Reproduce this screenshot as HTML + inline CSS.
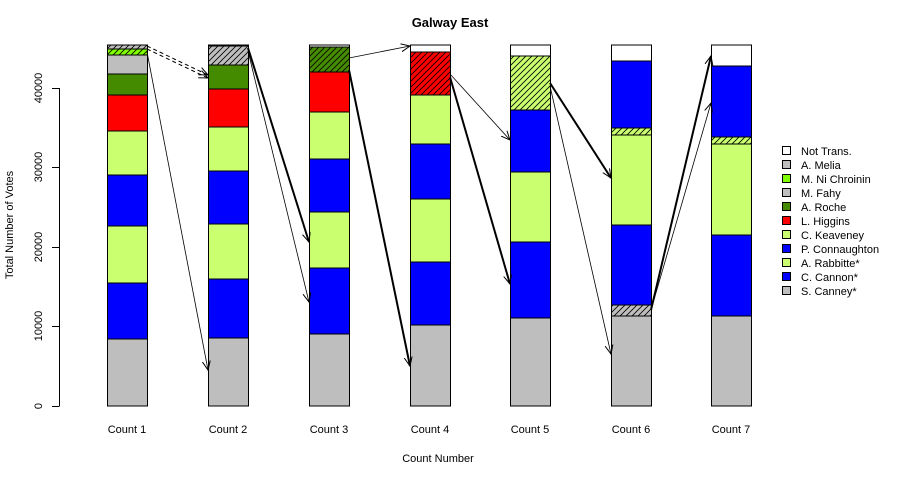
<!DOCTYPE html>
<html><head><meta charset="utf-8"><style>
html,body{margin:0;padding:0;background:#fff;}
svg{display:block;font-family:"Liberation Sans",Arial,sans-serif;}
</style></head><body>
<svg width="900" height="480" viewBox="0 0 900 480" xmlns="http://www.w3.org/2000/svg">
<defs>
<pattern id="hg" patternUnits="userSpaceOnUse" width="6" height="6"><rect width="6" height="6" fill="#bebebe"/><path d="M-1,7 L7,-1 M-1,1 L1,-1 M5,7 L7,5" stroke="#000" stroke-width="0.8"/></pattern>
<pattern id="hb" patternUnits="userSpaceOnUse" width="6" height="6"><rect width="6" height="6" fill="#7fff00"/><path d="M-1,7 L7,-1 M-1,1 L1,-1 M5,7 L7,5" stroke="#000" stroke-width="0.8"/></pattern>
<pattern id="hd" patternUnits="userSpaceOnUse" width="6" height="6"><rect width="6" height="6" fill="#458b00"/><path d="M-1,7 L7,-1 M-1,1 L1,-1 M5,7 L7,5" stroke="#000" stroke-width="0.8"/></pattern>
<pattern id="hr" patternUnits="userSpaceOnUse" width="6" height="6"><rect width="6" height="6" fill="#ff0000"/><path d="M-1,7 L7,-1 M-1,1 L1,-1 M5,7 L7,5" stroke="#000" stroke-width="0.8"/></pattern>
<pattern id="hl" patternUnits="userSpaceOnUse" width="6" height="6"><rect width="6" height="6" fill="#caff70"/><path d="M-1,7 L7,-1 M-1,1 L1,-1 M5,7 L7,5" stroke="#000" stroke-width="0.8"/></pattern>
<marker id="ah" markerWidth="10" markerHeight="10" refX="9" refY="5" orient="auto" markerUnits="userSpaceOnUse"><path d="M0,1 L9,5 L0,9" fill="none" stroke="#000" stroke-width="1"/></marker>
</defs>
<text x="450" y="27" text-anchor="middle" font-size="13" font-weight="bold">Galway East</text>
<g stroke="#000" stroke-width="1">
<line x1="59.5" y1="88" x2="59.5" y2="406"/>
<line x1="52" y1="88.5" x2="59.5" y2="88.5"/>
<line x1="52" y1="167.5" x2="59.5" y2="167.5"/>
<line x1="52" y1="247.5" x2="59.5" y2="247.5"/>
<line x1="52" y1="326.5" x2="59.5" y2="326.5"/>
<line x1="52" y1="406.5" x2="59.5" y2="406.5"/>
</g>
<g font-size="11" text-anchor="middle">
<text transform="translate(42,406) rotate(-90)">0</text>
<text transform="translate(42,326) rotate(-90)">10000</text>
<text transform="translate(42,247) rotate(-90)">20000</text>
<text transform="translate(42,167) rotate(-90)">30000</text>
<text transform="translate(42,88) rotate(-90)">40000</text>
<text transform="translate(13,225) rotate(-90)">Total Number of Votes</text>
<text x="127" y="433">Count 1</text>
<text x="228" y="433">Count 2</text>
<text x="329" y="433">Count 3</text>
<text x="430" y="433">Count 4</text>
<text x="530" y="433">Count 5</text>
<text x="631" y="433">Count 6</text>
<text x="731" y="433">Count 7</text>
<text x="438" y="462">Count Number</text>
</g>
<g stroke="#000" stroke-width="1">
<rect x="107.5" y="339" width="40" height="67" fill="#bebebe"/>
<rect x="107.5" y="283" width="40" height="56" fill="#0000ff"/>
<rect x="107.5" y="226" width="40" height="57" fill="#caff70"/>
<rect x="107.5" y="175" width="40" height="51" fill="#0000ff"/>
<rect x="107.5" y="131" width="40" height="44" fill="#caff70"/>
<rect x="107.5" y="95" width="40" height="36" fill="#ff0000"/>
<rect x="107.5" y="74" width="40" height="21" fill="#458b00"/>
<rect x="107.5" y="55" width="40" height="19" fill="#bebebe"/>
<rect x="107.5" y="49" width="40" height="6" fill="url(#hb)"/>
<rect x="107.5" y="45" width="40" height="4" fill="url(#hg)"/>
<rect x="208.5" y="338" width="40" height="68" fill="#bebebe"/>
<rect x="208.5" y="279" width="40" height="59" fill="#0000ff"/>
<rect x="208.5" y="224" width="40" height="55" fill="#caff70"/>
<rect x="208.5" y="171" width="40" height="53" fill="#0000ff"/>
<rect x="208.5" y="127" width="40" height="44" fill="#caff70"/>
<rect x="208.5" y="89" width="40" height="38" fill="#ff0000"/>
<rect x="208.5" y="65" width="40" height="24" fill="#458b00"/>
<rect x="208.5" y="46" width="40" height="19" fill="url(#hg)"/>
<rect x="208.5" y="45" width="40" height="1" fill="#000"/>
<rect x="309.5" y="334" width="40" height="72" fill="#bebebe"/>
<rect x="309.5" y="268" width="40" height="66" fill="#0000ff"/>
<rect x="309.5" y="212" width="40" height="56" fill="#caff70"/>
<rect x="309.5" y="159" width="40" height="53" fill="#0000ff"/>
<rect x="309.5" y="112" width="40" height="47" fill="#caff70"/>
<rect x="309.5" y="72" width="40" height="40" fill="#ff0000"/>
<rect x="309.5" y="47" width="40" height="25" fill="url(#hd)"/>
<rect x="309.5" y="45" width="40" height="2" fill="#fff"/>
<rect x="410.5" y="325" width="40" height="81" fill="#bebebe"/>
<rect x="410.5" y="262" width="40" height="63" fill="#0000ff"/>
<rect x="410.5" y="199" width="40" height="63" fill="#caff70"/>
<rect x="410.5" y="144" width="40" height="55" fill="#0000ff"/>
<rect x="410.5" y="95" width="40" height="49" fill="#caff70"/>
<rect x="410.5" y="52" width="40" height="43" fill="url(#hr)"/>
<rect x="410.5" y="45" width="40" height="7" fill="#fff"/>
<rect x="510.5" y="318" width="40" height="88" fill="#bebebe"/>
<rect x="510.5" y="242" width="40" height="76" fill="#0000ff"/>
<rect x="510.5" y="172" width="40" height="70" fill="#caff70"/>
<rect x="510.5" y="110" width="40" height="62" fill="#0000ff"/>
<rect x="510.5" y="56" width="40" height="54" fill="url(#hl)"/>
<rect x="510.5" y="45" width="40" height="11" fill="#fff"/>
<rect x="611.5" y="316" width="40" height="90" fill="#bebebe"/>
<rect x="611.5" y="305" width="40" height="11" fill="url(#hg)"/>
<rect x="611.5" y="225" width="40" height="80" fill="#0000ff"/>
<rect x="611.5" y="135" width="40" height="90" fill="#caff70"/>
<rect x="611.5" y="128" width="40" height="7" fill="url(#hl)"/>
<rect x="611.5" y="61" width="40" height="67" fill="#0000ff"/>
<rect x="611.5" y="45" width="40" height="16" fill="#fff"/>
<rect x="711.5" y="316" width="40" height="90" fill="#bebebe"/>
<rect x="711.5" y="235" width="40" height="81" fill="#0000ff"/>
<rect x="711.5" y="144" width="40" height="91" fill="#caff70"/>
<rect x="711.5" y="137" width="40" height="7" fill="url(#hl)"/>
<rect x="711.5" y="66" width="40" height="71" fill="#0000ff"/>
<rect x="711.5" y="45" width="40" height="21" fill="#fff"/>
</g>
<g stroke="#000" fill="none" marker-end="url(#ah)">
<line x1="147" y1="46" x2="208" y2="75" stroke-dasharray="4,3"/>
<line x1="147" y1="49" x2="208" y2="78" stroke-dasharray="4,3"/>
<line x1="147" y1="52" x2="208" y2="370" stroke-width="0.8"/>
<line x1="248" y1="48" x2="309" y2="242" stroke-width="2"/>
<line x1="248" y1="51" x2="309" y2="302" stroke-width="0.8"/>
<line x1="349" y1="58" x2="410" y2="46" stroke-width="0.8"/>
<line x1="349" y1="70" x2="410" y2="366" stroke-width="2"/>
<line x1="450" y1="74" x2="510" y2="140" stroke-width="0.8"/>
<line x1="450" y1="77" x2="510" y2="284" stroke-width="2"/>
<line x1="550" y1="83" x2="611" y2="178" stroke-width="2"/>
<line x1="550" y1="86" x2="611" y2="354" stroke-width="0.8"/>
<line x1="651" y1="310" x2="711" y2="56" stroke-width="2"/>
<line x1="651" y1="310" x2="711" y2="103" stroke-width="0.8"/>
</g>
<g stroke="#000" stroke-width="1">
<rect x="782.5" y="146.5" width="8" height="8" fill="#fff"/>
<rect x="782.5" y="160.5" width="8" height="8" fill="#bebebe"/>
<rect x="782.5" y="174.5" width="8" height="8" fill="#7fff00"/>
<rect x="782.5" y="188.5" width="8" height="8" fill="#bebebe"/>
<rect x="782.5" y="202.5" width="8" height="8" fill="#458b00"/>
<rect x="782.5" y="216.5" width="8" height="8" fill="#ff0000"/>
<rect x="782.5" y="230.5" width="8" height="8" fill="#caff70"/>
<rect x="782.5" y="244.5" width="8" height="8" fill="#0000ff"/>
<rect x="782.5" y="258.5" width="8" height="8" fill="#caff70"/>
<rect x="782.5" y="272.5" width="8" height="8" fill="#0000ff"/>
<rect x="782.5" y="286.5" width="8" height="8" fill="#bebebe"/>
</g>
<g font-size="11">
<text x="801" y="155">Not Trans.</text>
<text x="801" y="169">A. Melia</text>
<text x="801" y="183">M. Ni Chroinin</text>
<text x="801" y="197">M. Fahy</text>
<text x="801" y="211">A. Roche</text>
<text x="801" y="225">L. Higgins</text>
<text x="801" y="239">C. Keaveney</text>
<text x="801" y="253">P. Connaughton</text>
<text x="801" y="267">A. Rabbitte*</text>
<text x="801" y="281">C. Cannon*</text>
<text x="801" y="295">S. Canney*</text>
</g>
</svg>
</body></html>
